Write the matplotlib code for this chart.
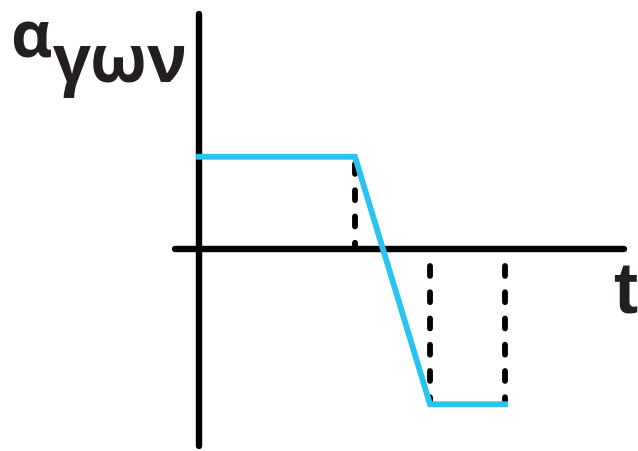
import matplotlib
matplotlib.use("Agg")
import matplotlib.pyplot as plt

# Piecewise profile: flat, linear ramp down, flat
t_pts = [0.0, 2.08, 3.08, 4.08]
a_pts = [1.23, 1.23, -2.07, -2.07]

BLUE = "#29C3F2"
INK = "#000000"
TXT = "#231F20"

fig = plt.figure(figsize=(6.38, 4.52), dpi=100)
ax = fig.add_axes([0, 0, 1, 1])
ax.set_xlim(-2.653, 5.853)
ax.set_ylim(-2.693, 3.333)
ax.axis("off")

# hand-drawn style axes
ax.plot([0, 0], [-2.63, 3.13], color=INK, lw=4.6, solid_capstyle="round", zorder=2)
ax.plot([-0.32, 5.67], [0, 0], color=INK, lw=4.6, solid_capstyle="round", zorder=2)

# dashed guides
dash = (0, (1.7, 2.8))
ax.plot([t_pts[1], t_pts[1]], [a_pts[1] - 0.1, 0], color=INK, lw=4.2,
        linestyle=dash, dash_capstyle="round", zorder=1)
for tx in (t_pts[2], t_pts[3]):
    ax.plot([tx, tx], [-0.22, a_pts[2] + 0.04], color=INK, lw=4.2,
            linestyle=dash, dash_capstyle="round", zorder=1)

ax.plot(t_pts, a_pts, color=BLUE, lw=4.2, solid_joinstyle="miter", zorder=3)

greek = ["Open Sans", "DejaVu Sans"]
fam = ["Liberation Sans", "DejaVu Sans"]
fig.text(10 / 638, 1 - 57 / 452, "α", fontsize=46, fontweight="bold",
         color=TXT, family=greek, ha="left", va="baseline")
fig.text(53 / 638, 1 - 82 / 452, "γων", fontsize=48, fontweight="bold",
         color=TXT, family=greek, ha="left", va="baseline")
fig.text(613 / 638, 1 - 314 / 452, "t", fontsize=52, fontweight="bold",
         color=TXT, family=fam, ha="left", va="baseline")

fig.savefig("out.png", dpi=100, facecolor="white")
